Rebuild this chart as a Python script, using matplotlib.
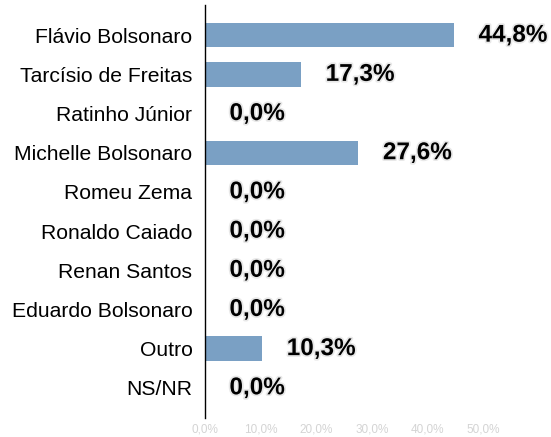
import matplotlib
matplotlib.use("Agg")
import matplotlib.pyplot as plt
import matplotlib.patheffects as pe

plt.rcParams['font.family'] = ['Liberation Sans', 'DejaVu Sans']

candidatos = ['Flávio Bolsonaro', 'Tarcísio de Freitas', 'Ratinho Júnior',
              'Michelle Bolsonaro', 'Romeu Zema', 'Ronaldo Caiado',
              'Renan Santos', 'Eduardo Bolsonaro', 'Outro', 'NS/NR']
valores = [44.8, 17.3, 0.0, 27.6, 0.0, 0.0, 0.0, 0.0, 10.3, 0.0]
ticks = [0, 10, 20, 30, 40, 50]

W, H = 551, 437
fig = plt.figure(figsize=(W / 100, H / 100), dpi=100)
ax = fig.add_axes([205 / W, 1 - 418 / H, (W - 205) / W, 413 / H])

pos = list(range(len(candidatos)))
ax.barh(pos, valores, height=0.62, color='#7aa0c4')
ax.set_xlim(0, (W - 205) / 5.56)
ax.set_ylim(len(candidatos) - 0.23, -0.77)

for p, v in zip(pos, valores):
    ax.text(v + 4.4, p, f'{v:.1f}%'.replace('.', ','), va='center', ha='left',
            fontsize=17.5, fontweight='bold', color='black',
            path_effects=[pe.withStroke(linewidth=2.5, foreground='#e8e8e8')])

ax.set_yticks(pos)
ax.set_yticklabels(candidatos, fontsize=15.2)
ax.set_xticks(ticks)
ax.set_xticklabels([f'{t},0%' for t in ticks], fontsize=8.5, color='#d4d4d4')
ax.tick_params(axis='y', length=0, pad=9)
ax.tick_params(axis='x', length=0, pad=4)

for s in ['top', 'right', 'bottom']:
    ax.spines[s].set_visible(False)
ax.spines['left'].set_color('black')
ax.spines['left'].set_linewidth(1)

fig.savefig('out.png', dpi=100)
